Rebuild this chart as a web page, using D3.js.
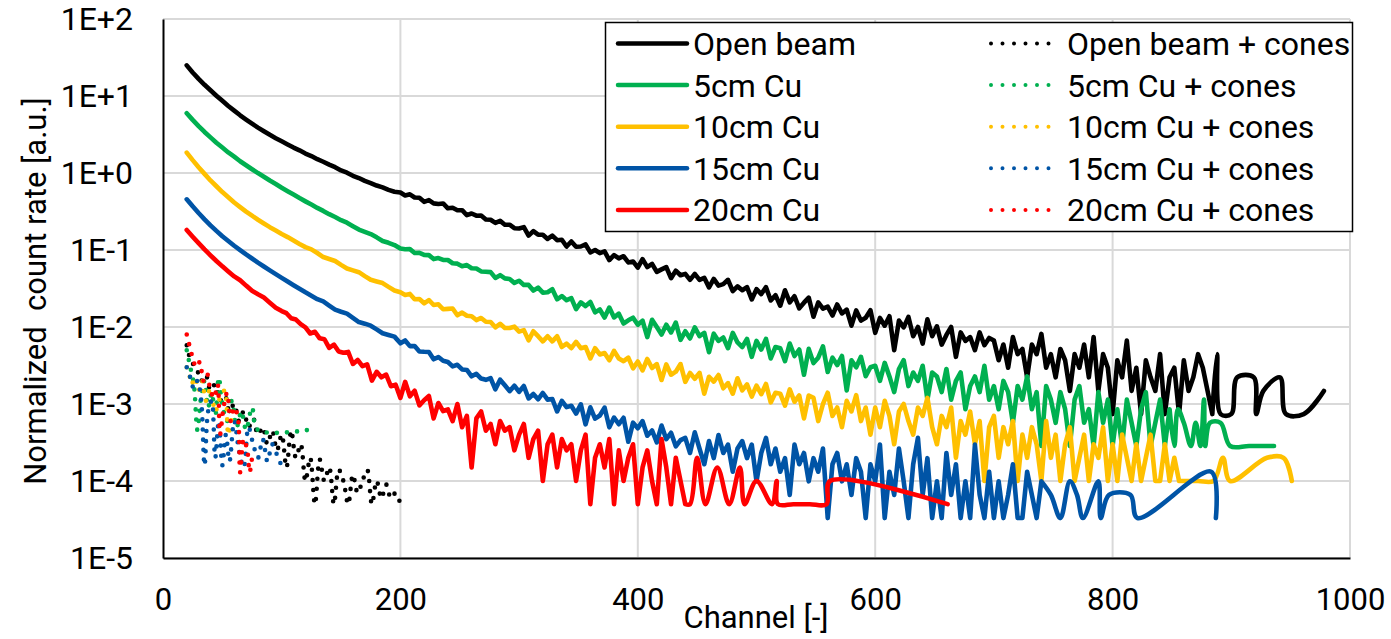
<!DOCTYPE html>
<meta charset="utf-8">
<style>
body { margin: 0; background: #fff; }
text { font-family: Roboto, sans-serif; fill: #000; }
.grid line { stroke: #d9d9d9; stroke-width: 2px; }
.axis path { stroke: #000; stroke-width: 2px; }
</style>
<body>
<script src="https://d3js.org/d3.v7.min.js"></script>
<script>
var width = 1391,
    height = 639;
var STEP = 4;

var xTicks = [0, 200, 400, 600, 800, 1000];
var yTicks = [1e-5, 1e-4, 1e-3, 1e-2, 1e-1, 1e0, 1e1, 1e2];
var yTickLabels = ["1E-5", "1E-4", "1E-3", "1E-2", "1E-1", "1E+0", "1E+1", "1E+2"];

var seriesNames = ["Open beam", "5cm Cu", "10cm Cu", "15cm Cu", "20cm Cu"];
var conesNames = ["Open beam + cones", "5cm Cu + cones", "10cm Cu + cones", "15cm Cu + cones", "20cm Cu + cones"];
var colors = ["#000000", "#00b050", "#ffc000", "#0054a6", "#ff0000"];

// open beam: head [channel, value], body every 4 channels from 200, sparse tail
var openBeamHead = [[20,25],[25,20.2],[30,16.7],[35,13.98],[40,11.9],[45,10.09],[50,8.65],[55,7.43],[60,6.46],[65,5.62],[70,4.95],[75,4.38],[80,3.89],[85,3.48],[90,3.13],[95,2.83],[100,2.58],[105,2.35],[110,2.14],[115,1.97],[120,1.79],[125,1.66],[130,1.51],[135,1.40],[140,1.285],[145,1.19],[150,1.08],[155,1.01],[160,.92],[165,.86],[170,.79],[175,.74],[180,.687],[185,.65],[190,.604],[195,.572]];
var openBeamBody = [.557,.510,.528,.481,.477,.422,.444,.403,.396,.402,.348,.354,.329,.329,.283,.298,.279,.281,.249,.247,.225,.239,.213,.213,.192,
  .19,.198,.154,.176,.158,.158,.139,.154,.134,.136,.111,.129,.110,.111,.118,.093,.100,.091,.096,.074,.086,.078,.083,.069,.071,
  .059,.076,.060,.066,.052,.056,.060,.043,.054,.047,.049,.041,.049,.041,.0435,.0327,.0421,.0345,.036,.041,.0293,.0337,.030,.033,.0228,
  .031,.0268,.0329,.0221,.0259,.0189,.030,.0209,.0251,.0175,.0207,.0241,.0136,.0209,.0173,.0184,.0141,.0196,.015,.0168,.0104,.0164,.0121,.0132,.0165,
  .0084,.0131,.0104,.0138,.0050,.0121,.0099,.0135,.0076,.0100,.0061,.0126,.0076,.0102,.0059,.0079,.0100,.0041,.0085,.0066,.0074,.0050,.0085,.0058,.0072,
  .00666,.0037,.00592,.00296,.0074,.00444,.00518,.00222,.00592,.00444,.00814,.00296,.00444,.00222,.00518,.0037,.00148,.00444,.00296,.00592,.00222,.0074,.00148,.00444,.00296,
  .00074,.0037,.00222,.00666,.00148,.00296,.00074,.0037,.00222,.00148,.00444,.00074,.00222,.00296,.00074,.0037,.00148,.00222,.00444,.00296,.00148,.00074];
var openBeamTail = [[888,.00444],[891,.00074],[900,.00074],[905,.00222],[919,.00222],[921,.00074],[927,.00148],[941,.00222],[946,.00074],[961,.00074],[978,.00148]];

var cu5Head = [[20,5.96],[25,4.90],[30,4.07],[35,3.41],[40,2.90],[45,2.47],[50,2.14],[55,1.85],[60,1.63],[65,1.42],[70,1.26],[75,1.12],[80,.998],[85,.895],[90,.798],[95,.72],[100,.644],[105,.58],[110,.524],[115,.472],[120,.428],[125,.39],[130,.352],[135,.322],[140,.292],[145,.268],[150,.244],[155,.226],[160,.204],[165,.184],[170,.172],[175,.161],[180,.146],[185,.131],[190,.124],[195,.116]];
var cu5Body = [.1044,.1023,.1027,.0916,.0917,.0863,.0858,.0762,.0786,.0742,.0741,.0673,.0665,.0614,.0637,.0580,.0576,.0527,.0521,.0516,
  .0434,.0471,.0428,.0420,.0374,.0399,.0352,.0352,.0297,.0325,
  .0279,.0283,.0309,.0229,.0252,.0223,.0237,.0171,.0209,.0187,
  .0211,.0155,.0169,.0133,.0179,.0133,.0149,.0111,.0122,.0132,
  .0107,.0121,.0074,.0124,.0100,.0080,.0107,.0085,.0114,.0068,.0088,.0071,.0099,.0076,.0084,.0047,.0082,.0066,.0073,.0053,.0084,.0063,.0055,.0070,.0041,
  .0066,.0051,.0070,.0039,.0055,.0053,.0036,.0061,.0042,.0051,.0024,.0052,.0034,.0040,.0056,.0026,.0040,.0032,.0042,.0015,.0037,.0030,.0041,.0023,.0030,
  .003135,.001995,.00342,.00228,.001425,.00285,.003705,.00171,.002565,.001995,.003135,.00114,.002565,
  .00228,.001425,.00285,.00114,.001995,.002565,.000855,.00171,.00228,.001425,.003135,.00114,.00171,
  .000855,.001995,.001425,.00057,.00171,.00114,.00228,.000855,.001425,.000285,.00171,.00114,
  .00057,.001425,.000855,.000285,.00114,.00171,.00057,.000855,.000285,.001425,.00057,.00114,.000285,
  .000855,.000285,.00114,.00057,.000285,.000855,.001425,.000285,.00057,.00114,.000285,.000855];
var cu5Tail = [[852,.000285],[855,.000855],[860,.00057],[866,.000285],[870,.00057],[874,.000285],[877,.00114],[878,.000285],[882,.00057],[891,.00057],[899,.000285],[915,.000285],[936,.000285]];

var cu10Head = [[20,1.84],[25,1.47],[30,1.19],[35,.975],[40,.80],[45,.673],[50,.565],[55,.484],[60,.414],[65,.361],[70,.315],[75,.279],[80,.247],[85,.221],[90,.198],[95,.179],[100,.161],[105,.147],[110,.133],[115,.12],[120,.109],[125,.102],[130,.0914],[135,.081],[140,.0764],[145,.072],[150,.0641],[155,.0575],[160,.0543],[165,.0515],[170,.0458],[175,.041],[180,.039],[185,.0372],[190,.0332],[195,.0298]];
var cu10Body = [.0283,.0261,.0269,.0229,.0231,.0203,.0224,.0193,.0197,.0170,.0172,.0174,.0142,.0154,.0140,.0138,.0123,.0131,.0117,.0116,.0099,.0110,.0097,.0097,.0101,
  .0087,.0091,.0067,.0088,.0076,.0065,.0076,.0065,.0076,.0055,.0061,.0053,.0064,.0053,.0055,.0039,.0053,.0044,.0046,.0037,.0049,.0039,.0036,.0040,.0029,
  .00356,.00273,.00384,.00293,.0033,.00205,.00326,.0024,.00263,.0033,.00194,.00253,.00213,.00254,.00136,.00226,.00195,.00238,.0016,.00187,.00136,.00216,.0015,.0018,.00125,
  .00173,.00134,.00182,.00105,.0014,.00136,.00095,.00155,.00107,.00129,.00065,.00129,
  1.2e-3,6e-4,1e-3,1.4e-3,7e-4,9e-4,5e-4,1.1e-3,8e-4,1.3e-3,6e-4,9e-4,4e-4,
  9e-4,5e-4,1.1e-3,7e-4,3e-4,8e-4,1e-3,6e-4,4e-4,9e-4,7e-4,1.2e-3,5e-4,
  3e-4,7e-4,5e-4,9e-4,2e-4,6e-4,4e-4,8e-4,3e-4,6e-4,1e-4,5e-4,7e-4,
  2e-4,5e-4,3e-4,6e-4,1e-4,4e-4,2e-4,5e-4,3e-4,1e-4,6e-4,2e-4,
  4e-4,1e-4,3e-4,5e-4,1e-4,2e-4,4e-4,1e-4,3e-4,2e-4,5e-4,1e-4,3e-4,
  1e-4,4e-4,2e-4,1e-4,3e-4,1e-4,2e-4,4e-4,1e-4,1e-4,3e-4,1e-4,2e-4,1e-4];
var cu10Tail = [[860,1e-4],[872,1e-4],[885,1e-4],[893,2e-4],[899,1e-4],[930,2e-4],[944,2e-4],[951,1e-4]];

var cu15Head = [[20,.455],[25,.369],[30,.302],[35,.250],[40,.209],[45,.177],[50,.151],[55,.131],[60,.1136],[65,.0995],[70,.0876],[75,.0776],[80,.0686],[85,.0611],[90,.0544],[95,.0486],[100,.0434],[105,.0389],[110,.0349],[115,.0314],[120,.0282],[125,.0255],[130,.0230],[135,.0215],[140,.0190],[145,.0168],[150,.01576],[155,.0149],[160,.01317],[165,.0116],[170,.01105],[175,.0104],[180,.00932],[185,.0083],[190,.00788],[195,.0075]];
var cu15Body = [.00615,.00669,.00564,.00565,.00481,.00476,.00474,.00381,.00407,.00364,.00351,.00308,.00323,.00281,.00277,.00229,.00247,.00214,
  .00206,.00217,.00155,.00207,.00175,.00147,.00173,.00144,.00171,.00118,.00135,.00115,.00139,.00114,.00116,.0008,.0011,.00091,.00095,.00075,.00099,
  .000544,.000907,.000645,.000709,.000899,.000498,.000667,.000546,.000663,.000323,.000573,.000485,.000599,.000387,.000453,.000318,.000525,.000349,.000423,.000282,.000339,
  3.63e-4,2.31e-4,4.29e-4,2.64e-4,1.65e-4,3.3e-4,1.98e-4,3.96e-4,2.31e-4,2.97e-4,1.32e-4,2.64e-4,3.3e-4,
  1.98e-4,2.97e-4,9.9e-5,2.31e-4,3.63e-4,1.65e-4,2.64e-4,1.32e-4,1.98e-4,6.6e-5,2.97e-4,1.65e-4,2.31e-4,
  9.9e-5,1.98e-4,1.32e-4,2.64e-4,3.3e-5,1.65e-4,2.31e-4,9.9e-5,1.65e-4,6.6e-5,1.98e-4,1.32e-4,3.3e-5,
  1.65e-4,9.9e-5,2.97e-4,3.3e-5,1.32e-4,6.6e-5,2.64e-4,9.9e-5,3.3e-5,1.65e-4,3.63e-4,6.6e-5,1.98e-4,3.3e-5,
  9.9e-5,3.3e-5,2.31e-4,6.6e-5,1.65e-4,3.3e-5,9.9e-5,3.3e-5,2.97e-4,6.6e-5,3.3e-5,1.32e-4,3.3e-5,
  9.9e-5,3.3e-5,6.6e-5,1.65e-4,3.3e-5,3.3e-5,1.32e-4,6.6e-5,3.3e-5,9.9e-5];
var cu15Tail = [[748,6.6e-5],[756,3.3e-5],[764,9.9e-5],[770,6.6e-5],[775,3.3e-5],[788,9.9e-5],[790,3.3e-5],[797,6.6e-5],[815,6.6e-5],[821,3.3e-5],[883,1.32e-4],[887,3.3e-5]];

var cu20Head = [[20,.182],[25,.149],[30,.123],[35,.102],[40,.0854],[45,.0720],[50,.0613],[55,.0526],[60,.0454],[65,.0405],[70,.0345],[75,.0296],[80,.0266],[85,.0241],[90,.0207],[95,.0178],[100,.0161],[104,.0151],[108,.0130],[112,.0125],[116,.0109]];
var cu20Body = [.00991,.00823,.00868,.00712,.00693,.00535,.0059,.00481,.00463,.00475,.00331,.00374,.0031,.00328,.00201,.00262,.00222,.00241,.0017,.00178,.0012,.00194,.00126,.00149,.00096,.00112,.00127,.00065,.00103,.00081,
  8.5e-4,6e-4,1e-3,5e-4,7e-4,1.5e-4,6.5e-4,8e-4,4.5e-4,5.5e-4,3e-4,6e-4,4.5e-4,
  5e-4,2.5e-4,4e-4,5.5e-4,2e-4,3.5e-4,4.5e-4,1e-4,3e-4,4e-4,1.5e-4,3.5e-4,2.5e-4,
  3e-4,1e-4,2.5e-4,4e-4,5e-5,2e-4,3e-4,1.5e-4,3.5e-4,5e-5,2.5e-4,1e-4,2e-4,
  3e-4,5e-5,1.5e-4,2.5e-4,1e-4,5e-5,3.5e-4,1.5e-4,5e-5,2e-4,1e-4,5e-5];
var cu20Tail = [[444,5e-5],[450,2e-4],[457,5e-5],[467,1.5e-4],[477,5e-5],[486,1.5e-4],[490,5e-5],[500,1e-4],[513,5e-5],[517,1e-4],[518,5e-5],[531,5e-5],[545,5e-5],[559,5e-5],[562,1e-4],[661,5e-5]];

// with cones
var openBeamCones = [[20,5.8e-3],[24,3.5e-3],[28,3.0e-3],[32,2.0e-3],[36,2.4e-3],[40,1.5e-3],[44,1.8e-3],[48,1.1e-3],[52,1.3e-3],[56,8e-4],[60,1.0e-3],[64,6e-4],[68,8e-4],[72,5e-4],[76,6.5e-4],[80,4e-4],[84,5e-4],[88,3e-4],[92,4.5e-4],[96,2.5e-4],[100,4e-4],[104,1.5e-4],[108,4.5e-4],[112,2e-4],[116,3e-4],[120,1e-4],[124,2e-4],[128,5e-5],[132,1.9e-4],[136,1e-4],[140,1.5e-4],[144,5e-5],[148,1.4e-4],[152,1e-4],[156,5e-5],[160,1.2e-4],[164,7e-5],[168,1e-4],[172,1.4e-4],[176,5e-5],[180,1e-4],[184,6e-5],[188,9e-5],[192,6e-5],[196,7e-5],[200,5e-5]];
var cu5Cones = [[20,5e-3],[23,3e-3],[26,1.8e-3],[29,4.6e-4],[32,1.2e-3],[35,2e-3],[38,9e-4],[41,1.4e-3],[44,7e-4],[47,2.2e-3],[50,1e-3],[54,6e-4],[58,1.1e-3],[62,5e-4],[66,8e-4],[70,4.6e-4],[75,9e-4],[80,4.6e-4],[122,4.6e-4]];
var cu10Cones = [[20,3e-3],[22,2.5e-3],[24,1.8e-3],[27,2.2e-3],[30,1.5e-3],[33,2e-3],[36,1.1e-3],[40,1.6e-3],[44,8e-4],[48,1.2e-3],[52,1.5e-3],[55,4e-4],[58,7e-4]];
var cu15Cones = [[20,3e-3],[23,2.2e-3],[26,1.6e-3],[29,2e-3],[32,1.2e-3],[35,1.6e-4],[38,8e-4],[41,1.1e-3],[44,2e-4],[47,6e-4],[50,1.6e-4],[53,4e-4],[56,1.8e-4],[60,6e-4],[64,2.5e-4],[68,1.5e-4],[72,5e-4],[76,3e-4],[80,2e-4],[84,3.5e-4],[88,1.8e-4],[92,3e-4],[96,2.2e-4],[100,1.6e-4],[104,1.4e-4]];
var cu20Cones = [[20,8e-3],[22,6e-3],[25,4e-3],[28,3e-3],[31,3.5e-3],[34,2e-3],[37,2.5e-3],[40,1.5e-3],[43,1.2e-3],[46,1.8e-3],[48,4e-4],[51,9e-4],[54,1.4e-3],[57,6e-4],[60,9e-4],[63,6.8e-4],[65,1.3e-4],[68,3.5e-4],[71,2.5e-4],[73,1.3e-4],[75,2e-4]];

function steps(start, values) {
  return values.map(function(v, i) { return [start + i * STEP, v]; });
}
function series(head, start, body, tail) {
  var main = head.concat(steps(start, body));
  return { main: main, tail: [main[main.length - 1]].concat(tail) };
}

var solid = [
  series(openBeamHead, 200, openBeamBody, openBeamTail),
  series(cu5Head, 200, cu5Body, cu5Tail),
  series(cu10Head, 200, cu10Body, cu10Tail),
  series(cu15Head, 200, cu15Body, cu15Tail),
  series(cu20Head, 120, cu20Body, cu20Tail)
];
var cones = [openBeamCones, cu5Cones, cu10Cones, cu15Cones, cu20Cones];

var x = d3.scaleLinear().domain([0, 1000]).range([163, 1350]);
var y = d3.scaleLog().domain([1e-5, 1e2]).range([558, 19]);

var svg = d3.select("body").append("svg")
    .attr("width", width)
    .attr("height", height);

// grid
svg.append("g").attr("class", "grid")
  .selectAll("line").data(yTicks).enter().append("line")
    .attr("x1", x(0)).attr("x2", x(1000))
    .attr("y1", d => y(d)).attr("y2", d => y(d));
svg.append("g").attr("class", "grid")
  .selectAll("line").data(xTicks.slice(1)).enter().append("line")
    .attr("x1", d => x(d)).attr("x2", d => x(d))
    .attr("y1", y(1e-5)).attr("y2", y(1e2));

// axes
svg.append("g").attr("class", "axis")
    .attr("transform", "translate(" + x(0) + ",0)")
    .call(d3.axisLeft(y).tickValues(yTicks).tickFormat((d, i) => yTickLabels[i]).tickSize(0).tickPadding(30))
    .call(g => g.selectAll("text").attr("font-size", 32).attr("font-family", "Roboto"));
svg.append("g").attr("class", "axis")
    .attr("transform", "translate(0," + y(1e-5) + ")")
    .call(d3.axisBottom(x).tickValues(xTicks).tickFormat(d3.format("d")).tickSize(0).tickPadding(30))
    .call(g => g.selectAll("text").attr("font-size", 31).attr("font-family", "Roboto"));

var lineDense = d3.line()
    .x(d => x(d[0]))
    .y(d => y(d[1]));
var lineSmooth = d3.line()
    .x(d => x(d[0]))
    .y(d => y(d[1]))
    .curve(d3.curveCatmullRom.alpha(0.5));

var plot = svg.append("g");
solid.forEach(function(s, i) {
  plot.append("path")
      .attr("d", lineDense(s.main) + lineSmooth(s.tail).replace(/^M[^LC]*/, ""))
      .attr("fill", "none")
      .attr("stroke", colors[i])
      .attr("stroke-width", 4.6)
      .attr("stroke-linejoin", "round")
      .attr("stroke-linecap", "round");
});
cones.forEach(function(data, i) {
  plot.append("path")
      .attr("d", lineSmooth(data))
      .attr("fill", "none")
      .attr("stroke", colors[i])
      .attr("stroke-width", 4.6)
      .attr("stroke-linecap", "round")
      .attr("stroke-dasharray", "0 10");
});

// legend
var legend = svg.append("g");
legend.append("rect")
    .attr("x", 605.5).attr("y", 22.5)
    .attr("width", 747).attr("height", 209)
    .attr("fill", "#fff").attr("stroke", "#000").attr("stroke-width", 1.5);

seriesNames.forEach(function(name, i) {
  var ly = 43.5 + i * 41.6;
  legend.append("line")
      .attr("x1", 618).attr("x2", 687).attr("y1", ly).attr("y2", ly)
      .attr("stroke", colors[i]).attr("stroke-width", 4.5).attr("stroke-linecap", "round");
  legend.append("text")
      .attr("x", 693).attr("y", ly).attr("dy", "0.36em")
      .attr("font-size", 32)
      .text(name);
  legend.append("line")
      .attr("x1", 991).attr("x2", 1060).attr("y1", ly).attr("y2", ly)
      .attr("stroke", colors[i]).attr("stroke-width", 4).attr("stroke-linecap", "round")
      .attr("stroke-dasharray", "0 11.5");
  legend.append("text")
      .attr("x", 1067).attr("y", ly).attr("dy", "0.36em")
      .attr("font-size", 32)
      .text(conesNames[i]);
});

// axis titles
svg.append("text")
    .attr("x", 756).attr("y", 628)
    .attr("text-anchor", "middle")
    .attr("font-size", 31)
    .text("Channel [-]");
svg.append("text")
    .attr("transform", "translate(46,291) rotate(-90)")
    .attr("text-anchor", "middle")
    .attr("font-size", 31)
    .text("Normalized\u00a0 count rate [a.u.]");
</script>
</body>
</html>
